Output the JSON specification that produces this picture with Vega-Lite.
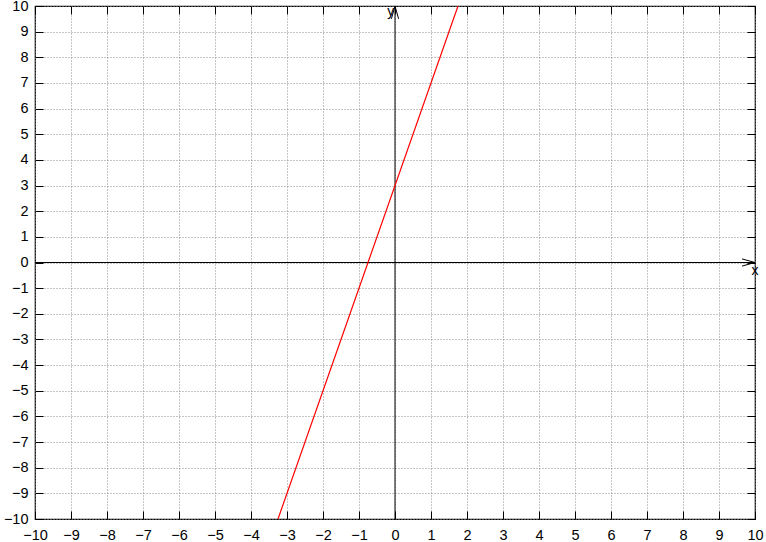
{
  "$schema": "https://vega.github.io/schema/vega-lite/v6.json",
  "width": 720,
  "height": 513,
  "autosize": "none",
  "padding": {"left": 35, "top": 6, "right": 11, "bottom": 23},
  "background": "white",
  "config": {
    "view": {"stroke": "black", "strokeWidth": 1.2},
    "font": "Liberation Sans",
    "axis": {
      "labelFont": "Liberation Sans",
      "labelFontSize": 14.5,
      "labelColor": "black",
      "domain": false,
      "tickColor": "black",
      "tickSize": -8,
      "tickWidth": 1,
      "title": null,
      "gridColor": "#8a8a8a",
      "gridDash": [1, 2],
      "gridWidth": 1,
      "gridOpacity": 1
    }
  },
  "datasets": {
    "fn": [{"x": -3.25, "y": -10}, {"x": 1.75, "y": 10}],
    "axes": [
      {"g": "xaxis", "o": 1, "x": -10, "y": 0}, {"g": "xaxis", "o": 2, "x": 10, "y": 0},
      {"g": "yaxis", "o": 1, "x": 0, "y": -10}, {"g": "yaxis", "o": 2, "x": 0, "y": 10},
      {"g": "xarrow", "o": 1, "x": 9.64, "y": 0.14}, {"g": "xarrow", "o": 2, "x": 10, "y": 0}, {"g": "xarrow", "o": 3, "x": 9.64, "y": -0.14},
      {"g": "yarrow", "o": 1, "x": -0.1, "y": 9.5}, {"g": "yarrow", "o": 2, "x": 0, "y": 10}, {"g": "yarrow", "o": 3, "x": 0.1, "y": 9.5}
    ],
    "labels": [
      {"t": "x", "x": 10, "y": -0.35},
      {"t": "y", "x": -0.12, "y": 9.75}
    ]
  },
  "resolve": {"axis": {"x": "independent", "y": "independent"}},
  "layer": [
    {
      "data": {"name": "axes"},
      "mark": {"type": "line", "color": "black", "strokeWidth": 1},
      "encoding": {
        "x": {"field": "x", "type": "quantitative", "scale": {"domain": [-10, 10], "nice": false},
              "axis": {"orient": "bottom", "values": [-10,-9,-8,-7,-6,-5,-4,-3,-2,-1,0,1,2,3,4,5,6,7,8,9,10], "format": "d", "grid": true, "labelPadding": 17, "labelFlush": false}},
        "y": {"field": "y", "type": "quantitative", "scale": {"domain": [-10, 10], "nice": false},
              "axis": {"orient": "left", "values": [-10,-9,-8,-7,-6,-5,-4,-3,-2,-1,0,1,2,3,4,5,6,7,8,9,10], "format": "d", "grid": true, "labelPadding": 15, "labelFlush": false}},
        "detail": {"field": "g"},
        "order": {"field": "o", "type": "quantitative"}
      }
    },
    {
      "data": {"name": "fn"},
      "mark": {"type": "line", "color": "#ff0000", "strokeWidth": 1.2, "clip": true},
      "encoding": {
        "x": {"field": "x", "type": "quantitative",
              "axis": {"orient": "top", "values": [-10,-9,-8,-7,-6,-5,-4,-3,-2,-1,0,1,2,3,4,5,6,7,8,9,10], "labels": false, "grid": false}},
        "y": {"field": "y", "type": "quantitative",
              "axis": {"orient": "right", "values": [-10,-9,-8,-7,-6,-5,-4,-3,-2,-1,0,1,2,3,4,5,6,7,8,9,10], "labels": false, "grid": false}}
      }
    },
    {
      "data": {"name": "labels"},
      "mark": {"type": "text", "fontSize": 14, "font": "Liberation Sans", "color": "black", "align": "center", "baseline": "middle"},
      "encoding": {
        "x": {"field": "x", "type": "quantitative", "axis": null},
        "y": {"field": "y", "type": "quantitative", "axis": null},
        "text": {"field": "t"}
      }
    }
  ]
}
